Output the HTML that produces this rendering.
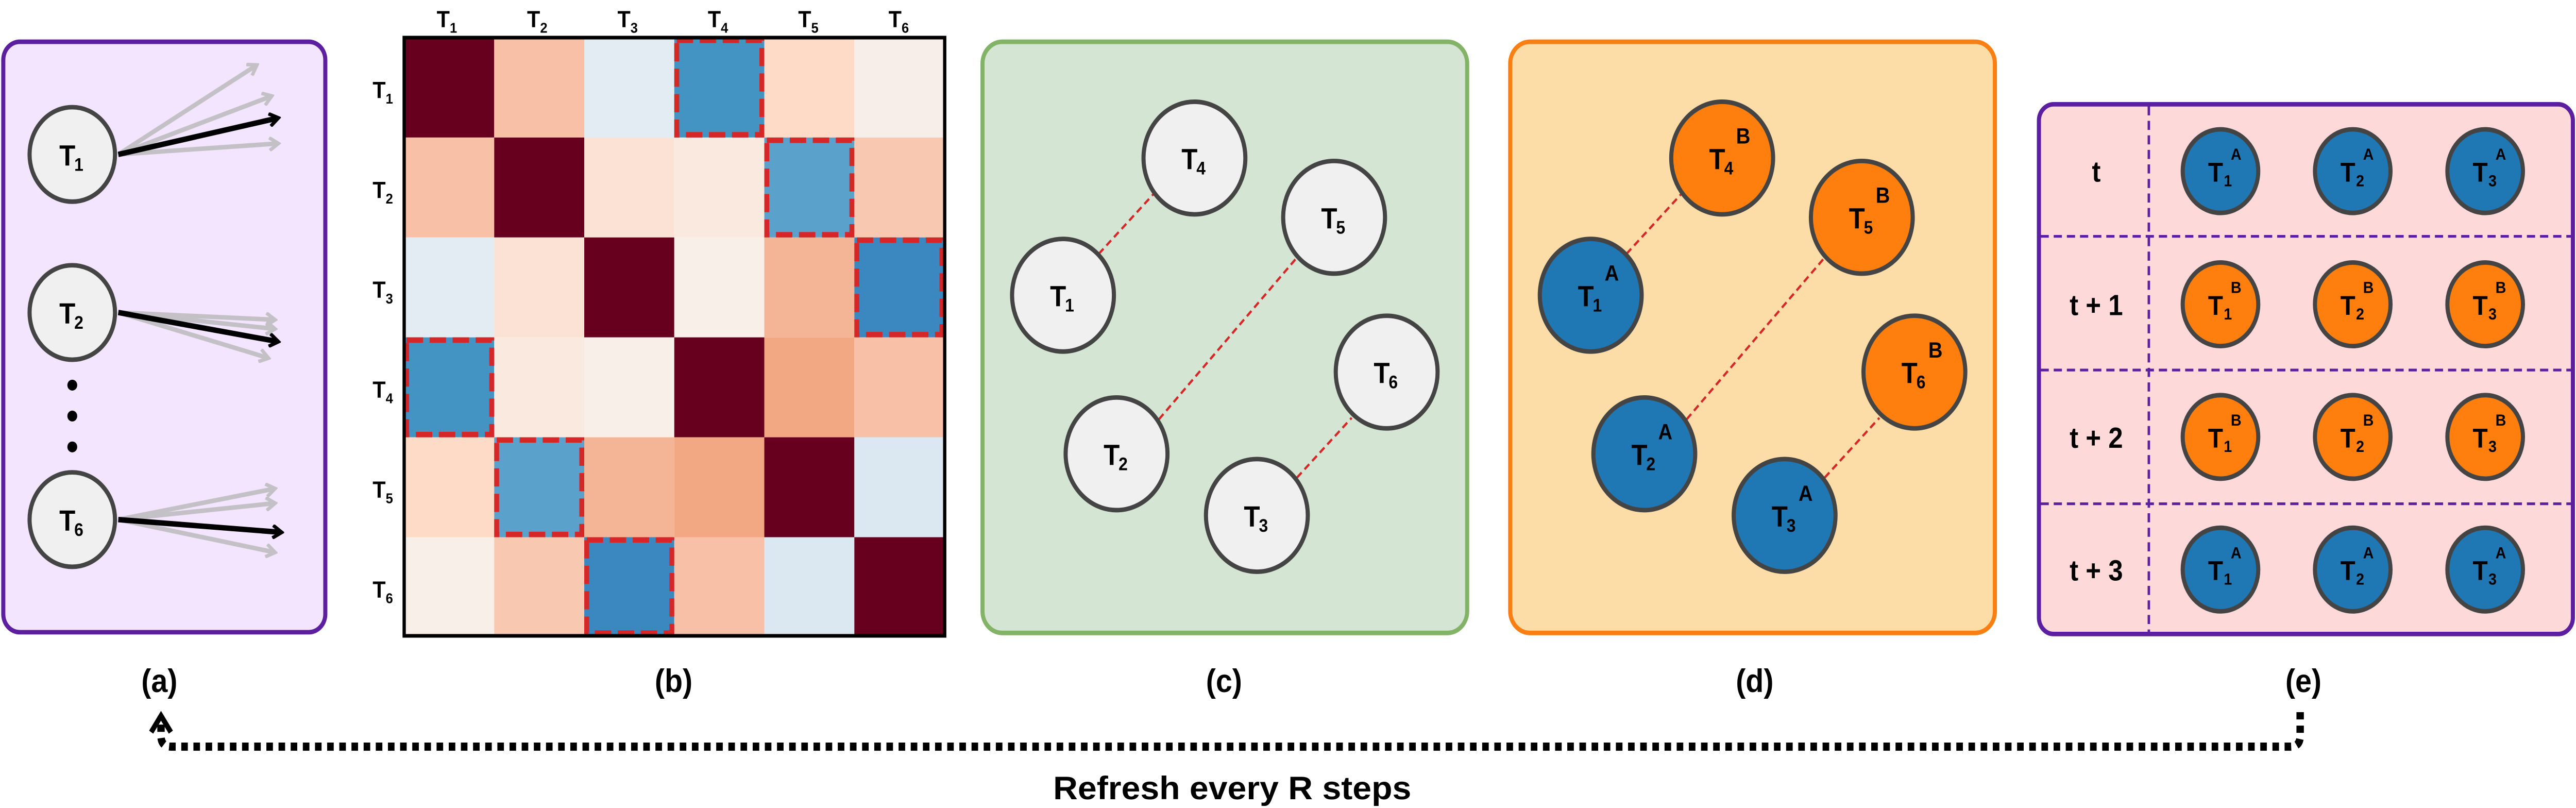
<!DOCTYPE html>
<html><head><meta charset="utf-8"><style>
html,body{margin:0;padding:0;background:#fff;}
svg{display:block;position:absolute;left:0;top:0;}
text{font-family:"Liberation Sans",sans-serif;font-weight:bold;fill:#000;}
</style></head><body>
<svg width="5000" height="1568" xmlns="http://www.w3.org/2000/svg">
<defs>
<marker id="ab" markerWidth="8" markerHeight="8" refX="6" refY="4" orient="auto" markerUnits="userSpaceOnUse"><path d="M1,0.5 L6.5,4 L1,7.5" fill="none" stroke="#000" stroke-width="2"/></marker>
<marker id="ag" markerWidth="8" markerHeight="8" refX="6" refY="4" orient="auto" markerUnits="userSpaceOnUse"><path d="M1,0.5 L6.5,4 L1,7.5" fill="none" stroke="#c4c1c6" stroke-width="2"/></marker>
</defs>
<g transform="scale(3.189,3.5255)">
<!-- (a) -->
<rect x="2" y="23" width="196" height="325" rx="10" fill="#f3e5fd" stroke="#5b1fa0" stroke-width="2.5"/>
<g stroke="#c4c1c6" stroke-width="2.5" marker-end="url(#ag)">
<line x1="72" y1="85" x2="156" y2="36"/><line x1="72" y1="85" x2="165" y2="53"/><line x1="72" y1="85" x2="169" y2="79"/>
<line x1="72" y1="172" x2="167" y2="176"/><line x1="72" y1="172" x2="167" y2="181"/><line x1="72" y1="172" x2="163" y2="197"/>
<line x1="72" y1="286" x2="167" y2="269"/><line x1="72" y1="286" x2="167" y2="277"/><line x1="72" y1="286" x2="167" y2="304"/>
</g>
<g stroke="#000" stroke-width="3" marker-end="url(#ab)">
<line x1="72" y1="85" x2="169" y2="65"/><line x1="72" y1="172" x2="169" y2="188"/><line x1="72" y1="286" x2="171" y2="293"/>
</g>
<g fill="#f0f0f0" stroke="#444" stroke-width="2.5">
<circle cx="44" cy="85" r="26"/><circle cx="44" cy="172" r="26"/><circle cx="44" cy="286" r="26"/>
</g>
<circle cx="44" cy="212" r="3" fill="#000"/><circle cx="44" cy="229" r="3" fill="#000"/><circle cx="44" cy="246" r="3" fill="#000"/>
<g font-size="16" text-anchor="middle">
<text x="41" y="91">T</text><text x="48" y="94" font-size="10">1</text>
<text x="41" y="178">T</text><text x="48" y="181" font-size="10">2</text>
<text x="41" y="292">T</text><text x="48" y="295" font-size="10">6</text>
</g>

<!-- (b) heatmap -->
<g>
<rect x="246" y="20.7" width="54.8" height="55" fill="#67001f"/>
<rect x="300.8" y="20.7" width="54.8" height="55" fill="#f8c0a6"/>
<rect x="355.6" y="20.7" width="54.8" height="55" fill="#e3ecf3"/>
<rect x="410.4" y="20.7" width="54.8" height="55" fill="#4393c3"/>
<rect x="465.2" y="20.7" width="54.8" height="55" fill="#fddbc7"/>
<rect x="520" y="20.7" width="55" height="55" fill="#f8eee9"/>
<rect x="246" y="75.7" width="54.8" height="55" fill="#f8c0a6"/>
<rect x="300.8" y="75.7" width="54.8" height="55" fill="#67001f"/>
<rect x="355.6" y="75.7" width="54.8" height="55" fill="#fbe2d4"/>
<rect x="410.4" y="75.7" width="54.8" height="55" fill="#fae9df"/>
<rect x="465.2" y="75.7" width="54.8" height="55" fill="#5aa1cb"/>
<rect x="520" y="75.7" width="55" height="55" fill="#f9c8b0"/>
<rect x="246" y="130.7" width="54.8" height="55" fill="#e3ecf3"/>
<rect x="300.8" y="130.7" width="54.8" height="55" fill="#fbe2d4"/>
<rect x="355.6" y="130.7" width="54.8" height="55" fill="#67001f"/>
<rect x="410.4" y="130.7" width="54.8" height="55" fill="#f8efe9"/>
<rect x="465.2" y="130.7" width="54.8" height="55" fill="#f4b596"/>
<rect x="520" y="130.7" width="55" height="55" fill="#3b87c0"/>
<rect x="246" y="185.7" width="54.8" height="55" fill="#4393c3"/>
<rect x="300.8" y="185.7" width="54.8" height="55" fill="#fae9df"/>
<rect x="355.6" y="185.7" width="54.8" height="55" fill="#f8efe9"/>
<rect x="410.4" y="185.7" width="54.8" height="55" fill="#67001f"/>
<rect x="465.2" y="185.7" width="54.8" height="55" fill="#f1a883"/>
<rect x="520" y="185.7" width="55" height="55" fill="#f8c0a6"/>
<rect x="246" y="240.7" width="54.8" height="55" fill="#fddbc7"/>
<rect x="300.8" y="240.7" width="54.8" height="55" fill="#5aa1cb"/>
<rect x="355.6" y="240.7" width="54.8" height="55" fill="#f4b596"/>
<rect x="410.4" y="240.7" width="54.8" height="55" fill="#f1a883"/>
<rect x="465.2" y="240.7" width="54.8" height="55" fill="#67001f"/>
<rect x="520" y="240.7" width="55" height="55" fill="#dbe8f1"/>
<rect x="246" y="295.7" width="54.8" height="54.3" fill="#f8efe9"/>
<rect x="300.8" y="295.7" width="54.8" height="54.3" fill="#f9c8b0"/>
<rect x="355.6" y="295.7" width="54.8" height="54.3" fill="#3b87c0"/>
<rect x="410.4" y="295.7" width="54.8" height="54.3" fill="#f8c0a6"/>
<rect x="465.2" y="295.7" width="54.8" height="54.3" fill="#dbe8f1"/>
<rect x="520" y="295.7" width="55" height="54.3" fill="#67001f"/>
</g>
<g fill="none" stroke="#d62728" stroke-width="3" stroke-dasharray="10 4">
<rect x="411.9" y="22.2" width="51.8" height="52"/>
<rect x="466.7" y="77.2" width="51.8" height="52"/>
<rect x="521.5" y="132.2" width="51.8" height="52"/>
<rect x="247.5" y="187.2" width="51.8" height="52"/>
<rect x="302.3" y="242.2" width="51.8" height="52"/>
<rect x="357.1" y="297.2" width="51.8" height="51.3"/>
</g>
<rect x="246" y="20.7" width="329" height="329.3" fill="none" stroke="#000" stroke-width="2"/>
<g font-size="13" text-anchor="middle">
<text x="272" y="15">T<tspan font-size="8" dy="3">1</tspan></text>
<text x="327" y="15">T<tspan font-size="8" dy="3">2</tspan></text>
<text x="382" y="15">T<tspan font-size="8" dy="3">3</tspan></text>
<text x="437" y="15">T<tspan font-size="8" dy="3">4</tspan></text>
<text x="492" y="15">T<tspan font-size="8" dy="3">5</tspan></text>
<text x="547" y="15">T<tspan font-size="8" dy="3">6</tspan></text>
<text x="233" y="54">T<tspan font-size="8" dy="3">1</tspan></text>
<text x="233" y="109">T<tspan font-size="8" dy="3">2</tspan></text>
<text x="233" y="164">T<tspan font-size="8" dy="3">3</tspan></text>
<text x="233" y="219">T<tspan font-size="8" dy="3">4</tspan></text>
<text x="233" y="274">T<tspan font-size="8" dy="3">5</tspan></text>
<text x="233" y="329">T<tspan font-size="8" dy="3">6</tspan></text>
</g>

<!-- (c) -->
<rect x="598" y="23" width="295" height="325.4" rx="12" fill="#d5e5d3" stroke="#82b366" stroke-width="2.5"/>
<g stroke="#d62728" stroke-width="1.3" stroke-dasharray="4 2.5">
<line x1="668.8" y1="139.7" x2="702" y2="106.9"/>
<line x1="705.4" y1="230.8" x2="788.6" y2="142.6"/>
<line x1="789.4" y1="262.9" x2="822.7" y2="230"/>
</g>
<g fill="#f0f0f0" stroke="#444" stroke-width="2.5">
<circle cx="727" cy="87" r="31"/><circle cx="812" cy="119.6" r="31"/><circle cx="647" cy="162.5" r="31"/>
<circle cx="844" cy="204.8" r="31"/><circle cx="679.6" cy="249.8" r="31"/><circle cx="765" cy="283.7" r="31"/>
</g>
<g font-size="16" text-anchor="middle">
<text x="724" y="93">T</text><text x="731" y="96" font-size="10">4</text>
<text x="809" y="125.6">T</text><text x="816" y="128.6" font-size="10">5</text>
<text x="644" y="168.5">T</text><text x="651" y="171.5" font-size="10">1</text>
<text x="841" y="210.8">T</text><text x="848" y="213.8" font-size="10">6</text>
<text x="676.6" y="255.8">T</text><text x="683.6" y="258.8" font-size="10">2</text>
<text x="762" y="289.7">T</text><text x="769" y="292.7" font-size="10">3</text>
</g>

<!-- (d) -->
<rect x="919.2" y="23" width="295" height="325.4" rx="12" fill="#fcdca7" stroke="#fa7f12" stroke-width="2.5"/>
<g stroke="#d62728" stroke-width="1.3" stroke-dasharray="4 2.5">
<line x1="990" y1="139.7" x2="1023.2" y2="106.9"/>
<line x1="1026.6" y1="230.8" x2="1109.8" y2="142.6"/>
<line x1="1110.6" y1="262.9" x2="1143.9" y2="230"/>
</g>
<g stroke="#444" stroke-width="2.5">
<circle cx="1048.2" cy="87" r="31" fill="#ff7f0e"/><circle cx="1133.2" cy="119.6" r="31" fill="#ff7f0e"/><circle cx="968.2" cy="162.5" r="31" fill="#1f77b4"/>
<circle cx="1165.2" cy="204.8" r="31" fill="#ff7f0e"/><circle cx="1000.8" cy="249.8" r="31" fill="#1f77b4"/><circle cx="1086.2" cy="283.7" r="31" fill="#1f77b4"/>
</g>
<g font-size="16" text-anchor="middle">
<text x="1045.2" y="93">T</text><text x="1052.2" y="96" font-size="10">4</text><text x="1061" y="79" font-size="12">B</text>
<text x="1130.2" y="125.6">T</text><text x="1137.2" y="128.6" font-size="10">5</text><text x="1146" y="111.6" font-size="12">B</text>
<text x="965.2" y="168.5">T</text><text x="972.2" y="171.5" font-size="10">1</text><text x="981" y="154.5" font-size="12">A</text>
<text x="1162.2" y="210.8">T</text><text x="1169.2" y="213.8" font-size="10">6</text><text x="1178" y="196.8" font-size="12">B</text>
<text x="997.8" y="255.8">T</text><text x="1004.8" y="258.8" font-size="10">2</text><text x="1013.6" y="241.8" font-size="12">A</text>
<text x="1083.2" y="289.7">T</text><text x="1090.2" y="292.7" font-size="10">3</text><text x="1099" y="275.7" font-size="12">A</text>
</g>

<!-- (e) -->
<rect x="1241" y="57.4" width="325" height="291.6" rx="9" fill="#fdd9da" stroke="#5b1fa0" stroke-width="2.5"/>
<g stroke="#5b1fa0" stroke-width="1.5" stroke-dasharray="5 3">
<line x1="1307.9" y1="58.5" x2="1307.9" y2="348"/>
<line x1="1242" y1="130.1" x2="1565.5" y2="130.1"/>
<line x1="1242" y1="203.7" x2="1565.5" y2="203.7"/>
<line x1="1242" y1="277.3" x2="1565.5" y2="277.3"/>
</g>
<g font-size="16" text-anchor="middle">
<text x="1275.9" y="100">t</text>
<text x="1275.9" y="173.5">t + 1</text>
<text x="1275.9" y="246.5">t + 2</text>
<text x="1275.9" y="319.5">t + 3</text>
</g>
<g stroke="#444" stroke-width="2.5">
<circle cx="1351.5" cy="94.2" r="23" fill="#1f77b4"/><circle cx="1432" cy="94.2" r="23" fill="#1f77b4"/><circle cx="1512.6" cy="94.2" r="23" fill="#1f77b4"/>
<circle cx="1351.5" cy="167.5" r="23" fill="#ff7f0e"/><circle cx="1432" cy="167.5" r="23" fill="#ff7f0e"/><circle cx="1512.6" cy="167.5" r="23" fill="#ff7f0e"/>
<circle cx="1351.5" cy="240.5" r="23" fill="#ff7f0e"/><circle cx="1432" cy="240.5" r="23" fill="#ff7f0e"/><circle cx="1512.6" cy="240.5" r="23" fill="#ff7f0e"/>
<circle cx="1351.5" cy="313.5" r="23" fill="#1f77b4"/><circle cx="1432" cy="313.5" r="23" fill="#1f77b4"/><circle cx="1512.6" cy="313.5" r="23" fill="#1f77b4"/>
</g>
<g font-size="15" text-anchor="middle">
<text x="1348.5" y="100">T</text><text x="1356" y="102.5" font-size="9">1</text><text x="1361" y="88" font-size="9">A</text>
<text x="1429" y="100">T</text><text x="1436.5" y="102.5" font-size="9">2</text><text x="1441.5" y="88" font-size="9">A</text>
<text x="1509.6" y="100">T</text><text x="1517.1" y="102.5" font-size="9">3</text><text x="1522.1" y="88" font-size="9">A</text>
<text x="1348.5" y="173.3">T</text><text x="1356" y="175.8" font-size="9">1</text><text x="1361" y="161.3" font-size="9">B</text>
<text x="1429" y="173.3">T</text><text x="1436.5" y="175.8" font-size="9">2</text><text x="1441.5" y="161.3" font-size="9">B</text>
<text x="1509.6" y="173.3">T</text><text x="1517.1" y="175.8" font-size="9">3</text><text x="1522.1" y="161.3" font-size="9">B</text>
<text x="1348.5" y="246.3">T</text><text x="1356" y="248.8" font-size="9">1</text><text x="1361" y="234.3" font-size="9">B</text>
<text x="1429" y="246.3">T</text><text x="1436.5" y="248.8" font-size="9">2</text><text x="1441.5" y="234.3" font-size="9">B</text>
<text x="1509.6" y="246.3">T</text><text x="1517.1" y="248.8" font-size="9">3</text><text x="1522.1" y="234.3" font-size="9">B</text>
<text x="1348.5" y="319.3">T</text><text x="1356" y="321.8" font-size="9">1</text><text x="1361" y="307.3" font-size="9">A</text>
<text x="1429" y="319.3">T</text><text x="1436.5" y="321.8" font-size="9">2</text><text x="1441.5" y="307.3" font-size="9">A</text>
<text x="1509.6" y="319.3">T</text><text x="1517.1" y="321.8" font-size="9">3</text><text x="1522.1" y="307.3" font-size="9">A</text>
</g>

<!-- panel labels -->
<g font-size="18" text-anchor="middle">
<text x="97" y="381">(a)</text>
<text x="410" y="381">(b)</text>
<text x="745" y="381">(c)</text>
<text x="1068" y="381">(d)</text>
<text x="1402" y="381">(e)</text>
</g>

<!-- refresh arrow -->
<path d="M1400,392 L1400,405 Q1400,411 1394,411 L104,411 Q98,411 98,405 L98,397" fill="none" stroke="#000" stroke-width="4.5" stroke-dasharray="4 3.4"/>
<path d="M92,403 L98,394 L104,403" fill="none" stroke="#000" stroke-width="3"/>
<text x="750" y="440" font-size="18" text-anchor="middle" textLength="218" lengthAdjust="spacingAndGlyphs">Refresh every R steps</text>
</g>
</svg>
</body></html>
